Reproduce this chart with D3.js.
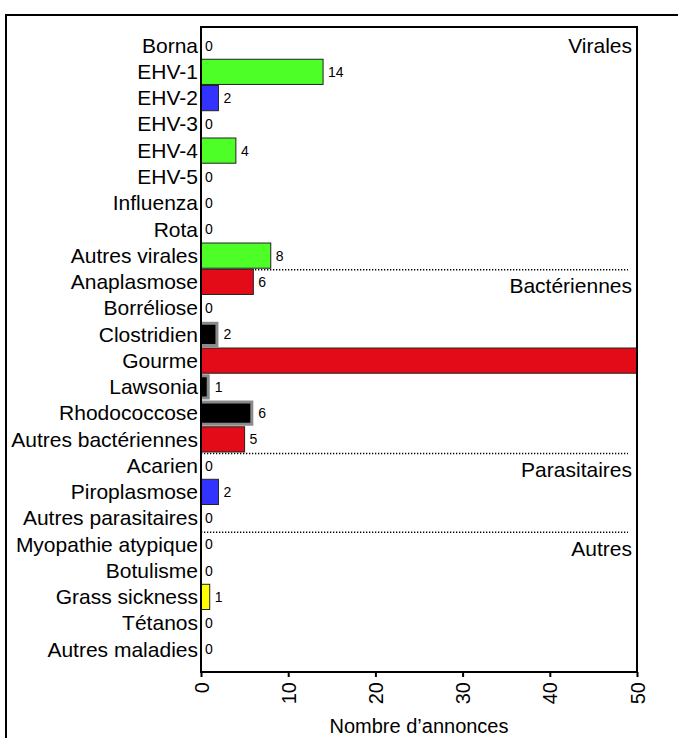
<!DOCTYPE html>
<meta charset="utf-8">
<style>
	body { margin: 0; background: #fff; }
	svg text { font-family: "Liberation Sans", Arial, sans-serif; fill: #000; }
</style>
<body>
	<div id="chart"></div>
</body>
<script src="https://cdn.jsdelivr.net/npm/d3@7"></script>
<script>
	const width = 678,
	    height = 738;

	// données
	const maladies = ["Borna", "EHV-1", "EHV-2", "EHV-3", "EHV-4", "EHV-5", "Influenza", "Rota", "Autres virales",
	    "Anaplasmose", "Borréliose", "Clostridien", "Gourme", "Lawsonia", "Rhodococcose", "Autres bactériennes",
	    "Acarien", "Piroplasmose", "Autres parasitaires",
	    "Myopathie atypique", "Botulisme", "Grass sickness", "Tétanos", "Autres maladies"];
	const annonces = [0, 14, 2, 0, 4, 0, 0, 0, 8,
	    6, 0, 2, 50, 1, 6, 5,
	    0, 2, 0,
	    0, 0, 1, 0, 0];
	const types = ["g", "g", "b", "g", "g", "g", "g", "g", "g",
	    "r", "r", "k", "r", "k", "k", "r",
	    "b", "b", "b",
	    "y", "y", "y", "y", "y"];
	const groupes = ["Virales", "Bactériennes", "Parasitaires", "Autres"];
	const debutGroupe = ["Borna", "Anaplasmose", "Acarien", "Myopathie atypique"];
	const xTicks = [0, 10, 20, 30, 40, 50];

	const colors = { g: "#4dff27", b: "#3333ff", r: "#e30b17", k: "#000000", y: "#ffff00" };

	const box = { left: 201, right: 637, top: 27, bottom: 672 };

	const svg = d3.select("#chart").append("svg")
	    .attr("width", width)
	    .attr("height", height);

	// cadre de la figure
	svg.append("path")
	    .attr("d", "M6,745 V15 H690")
	    .style("fill", "none")
	    .style("stroke", "#000")
	    .style("stroke-width", 2);

	const x = d3.scaleLinear().domain([0, 50]).range([box.left, box.right]);
	const y = d3.scaleBand().domain(maladies).range([33, 662]).paddingInner(0.04);

	const data = maladies.map((m, i) => ({ nom: m, v: annonces[i], t: types[i] }));

	// séparateurs pointillés
	debutGroupe.slice(1).forEach(function(m) {
	    const yy = y(m) - y.step() * y.paddingInner() / 2;
	    svg.append("line")
	        .attr("x1", box.left)
	        .attr("x2", 628)
	        .attr("y1", yy + 1)
	        .attr("y2", yy + 1)
	        .style("stroke", "#000")
	        .style("stroke-width", 1.3)
	        .style("stroke-dasharray", "1.3,1.7");
	});

	const bars = svg.append("g");

	// barres colorées
	bars.selectAll("rect.bar")
	    .data(data.filter(d => d.v > 0 && d.t != "k"))
	    .enter().append("rect")
	    .attr("class", "bar")
	    .attr("x", box.left)
	    .attr("y", d => y(d.nom))
	    .attr("width", d => x(Math.min(d.v, 50)) - box.left)
	    .attr("height", y.bandwidth())
	    .style("fill", d => colors[d.t])
	    .style("stroke", "#222")
	    .style("stroke-width", 1);

	// barres noires à bord gris
	const kBars = bars.selectAll("g.kbar")
	    .data(data.filter(d => d.v > 0 && d.t == "k"))
	    .enter().append("g")
	    .attr("class", "kbar");
	kBars.append("rect")
	    .attr("x", box.left)
	    .attr("y", d => y(d.nom))
	    .attr("width", d => x(d.v) - box.left)
	    .attr("height", y.bandwidth())
	    .style("fill", "#8a8a8a");
	kBars.append("rect")
	    .attr("x", box.left)
	    .attr("y", d => y(d.nom) + 3)
	    .attr("width", d => Math.max(x(d.v) - box.left - 3, 2))
	    .attr("height", y.bandwidth() - 6)
	    .style("fill", "#000");

	// valeurs
	svg.append("g").selectAll("text")
	    .data(data.filter(d => d.v < 50))
	    .enter().append("text")
	    .attr("x", d => x(d.v) + (d.v > 0 ? 5 : 4))
	    .attr("y", d => y(d.nom) + y.bandwidth() / 2)
	    .attr("dy", "0.36em")
	    .style("font-size", "14px")
	    .text(d => d.v);

	// noms des maladies
	svg.append("g").selectAll("text")
	    .data(maladies)
	    .enter().append("text")
	    .attr("x", box.left - 3)
	    .attr("y", d => y(d) + y.bandwidth() / 2)
	    .attr("dy", "0.34em")
	    .attr("text-anchor", "end")
	    .style("font-size", "21px")
	    .text(d => d);

	// noms des groupes
	svg.append("g").selectAll("text")
	    .data(groupes)
	    .enter().append("text")
	    .attr("x", 632)
	    .attr("y", (d, i) => y(debutGroupe[i]) + y.bandwidth() / 2 + (i == 0 ? 0 : 4))
	    .attr("dy", "0.34em")
	    .attr("text-anchor", "end")
	    .style("font-size", "21px")
	    .text(d => d);

	// cadre du graphique
	svg.append("rect")
	    .attr("x", box.left)
	    .attr("y", box.top)
	    .attr("width", box.right - box.left)
	    .attr("height", box.bottom - box.top)
	    .style("fill", "none")
	    .style("stroke", "#000")
	    .style("stroke-width", 2);

	// axe x
	const axis = svg.append("g")
	    .attr("transform", "translate(0," + box.bottom + ")")
	    .call(d3.axisBottom(x).tickValues(xTicks).tickSize(5).tickSizeOuter(0));
	axis.select(".domain").remove();
	axis.selectAll(".tick line").style("stroke", "#000").style("stroke-width", 2);
	axis.selectAll(".tick text")
	    .attr("transform", "rotate(-90)")
	    .attr("x", -10)
	    .attr("y", 0)
	    .attr("dy", "0.35em")
	    .attr("text-anchor", "end")
	    .style("font-family", "'Liberation Sans', Arial, sans-serif")
	    .style("font-size", "20px")
	    .style("fill", "#000");

	svg.append("text")
	    .attr("x", (box.left + box.right) / 2)
	    .attr("y", 733)
	    .attr("text-anchor", "middle")
	    .style("font-size", "20px")
	    .text("Nombre d’annonces");
</script>
